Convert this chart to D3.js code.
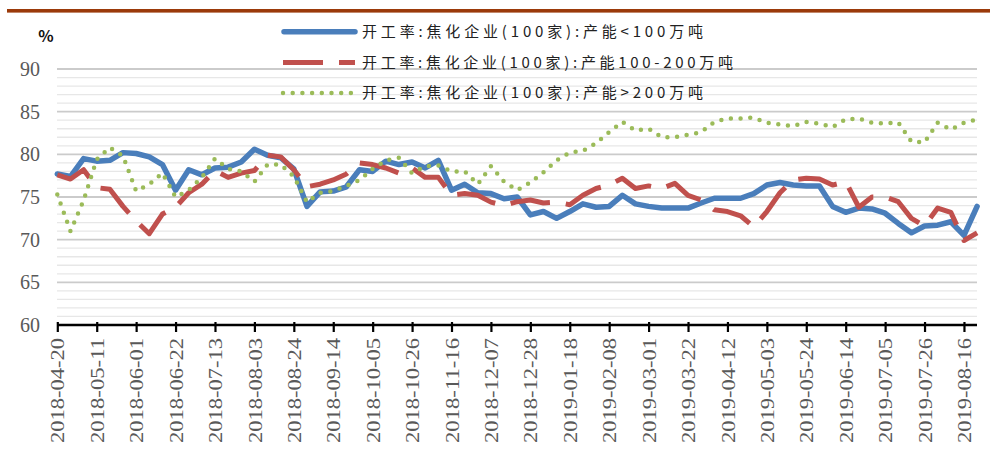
<!DOCTYPE html>
<html>
<head>
<meta charset="utf-8">
<script src="https://cdn.jsdelivr.net/npm/d3@7"></script>
<style>
  html, body { margin: 0; padding: 0; background: #fff; }
  svg { display: block; }
</style>
</head>
<body>
<svg id="chart" width="990" height="465"></svg>
<script>
// Weekly observation dates
const dates = [
  "2018-04-20","2018-04-27","2018-05-04","2018-05-11","2018-05-18","2018-05-25",
  "2018-06-01","2018-06-08","2018-06-15","2018-06-22","2018-06-29","2018-07-06",
  "2018-07-13","2018-07-20","2018-07-27","2018-08-03","2018-08-10","2018-08-17",
  "2018-08-24","2018-08-31","2018-09-07","2018-09-14","2018-09-21","2018-09-28",
  "2018-10-05","2018-10-12","2018-10-19","2018-10-26","2018-11-02","2018-11-09",
  "2018-11-16","2018-11-23","2018-11-30","2018-12-07","2018-12-14","2018-12-21",
  "2018-12-28","2019-01-04","2019-01-11","2019-01-18","2019-01-25","2019-02-01",
  "2019-02-08","2019-02-15","2019-02-22","2019-03-01","2019-03-08","2019-03-15",
  "2019-03-22","2019-03-29","2019-04-05","2019-04-12","2019-04-19","2019-04-26",
  "2019-05-03","2019-05-10","2019-05-17","2019-05-24","2019-05-31","2019-06-07",
  "2019-06-14","2019-06-21","2019-06-28","2019-07-05","2019-07-12","2019-07-19",
  "2019-07-26","2019-08-02","2019-08-09","2019-08-16","2019-08-23"
];

// Dates shown on the category axis
const tickDates = [
  "2018-04-20","2018-05-11","2018-06-01","2018-06-22","2018-07-13","2018-08-03",
  "2018-08-24","2018-09-14","2018-10-05","2018-10-26","2018-11-16","2018-12-07",
  "2018-12-28","2019-01-18","2019-02-08","2019-03-01","2019-03-22","2019-04-12",
  "2019-05-03","2019-05-24","2019-06-14","2019-07-05","2019-07-26","2019-08-16"
];

const yTicks = [60, 65, 70, 75, 80, 85, 90];

// Capacity < 1 Mt
const smallPlants = [
  77.7, 77.4, 79.5, 79.2, 79.3, 80.2, 80.1, 79.7, 78.8, 75.8,
  78.2, 77.6, 78.4, 78.5, 79.1, 80.6, 79.9, 79.6, 78.3, 73.9,
  75.6, 75.7, 76.2, 78.2, 78.0, 79.2, 78.8, 79.1, 78.4, 79.3,
  75.8, 76.5, 75.5, 75.4, 74.8, 75.0, 72.9, 73.3, 72.5, 73.3,
  74.2, 73.8, 73.9, 75.2, 74.2, 73.9, 73.7, 73.7, 73.7, 74.3,
  74.85, 74.85, 74.85, 75.4, 76.4, 76.7, 76.4, 76.3, 76.3, 73.9,
  73.2, 73.7, 73.6, 73.1, 71.9, 70.8, 71.6, 71.7, 72.1, 70.5,
  73.9
];

// Capacity 1-2 Mt
const midPlants = [
  77.6, 77.1, 78.2, 76.1, 75.9, 73.9, 72.2, 70.7, 73.0, 73.8,
  75.5, 76.5, 78.1, 77.3, 77.8, 78.1, 79.9, 79.7, 78.2, 76.2,
  76.5, 77.0, 77.7, 79.0, 78.8, 78.4, 77.8, 78.4, 77.3, 77.3,
  75.2, 75.4, 75.2, 74.4, 74.0, 74.45, 74.65, 74.3, 74.4, 74.1,
  75.2, 76.0, 76.4, 77.2, 76.0, 76.3, 76.0, 76.6, 75.2, 74.65,
  73.5, 73.3, 72.8, 71.5, 73.3, 75.5, 77.0, 77.2, 77.1, 76.4,
  76.8, 73.8, 75.0, 75.0, 74.45, 72.5, 71.6, 73.7, 73.2, 69.9,
  70.8
];

// Capacity > 2 Mt
const largePlants = [
  75.3, 71.0, 74.6, 79.4, 80.8, 79.8, 75.7, 76.5, 77.8, 75.0,
  75.8, 77.3, 79.5, 78.3, 78.0, 76.8, 78.8, 78.8, 77.4, 74.4,
  75.5, 75.7, 76.3, 77.0, 78.3, 79.3, 79.6, 77.8, 78.6, 78.7,
  78.0, 78.0, 76.5, 78.6, 76.8, 75.8, 76.7, 77.9, 79.3, 80.2,
  80.4, 81.3, 82.6, 83.8, 82.8, 83.0, 82.0, 82.0, 82.3, 82.6,
  83.8, 84.2, 84.2, 84.3, 83.7, 83.5, 83.3, 83.8, 83.6, 83.2,
  84.1, 84.2, 83.7, 83.6, 83.75, 81.5, 81.4, 83.7, 82.9, 83.7,
  84.1
];

const seriesNames = [
  "开工率:焦化企业(100家):产能<100万吨",
  "开工率:焦化企业(100家):产能100-200万吨",
  "开工率:焦化企业(100家):产能>200万吨"
];

const series = [
  { name: seriesNames[0], values: smallPlants, color: "#4A7EBB", width: 5.5, dash: null, cap: "round", legendW: 341 },
  { name: seriesNames[1], values: midPlants,   color: "#C0504D", width: 5,   dash: "40,16", cap: "butt", legendW: 371 },
  { name: seriesNames[2], values: largePlants, color: "#9BBB59", width: 4.5, dash: "0,9.7", cap: "round", legendW: 341 }
];

const svg = d3.select("#chart");

svg.append("rect").attr("width", 990).attr("height", 465).attr("fill", "#fff");

// Header rule
svg.append("rect")
  .attr("x", 7).attr("y", 9).attr("width", 983).attr("height", 3.6)
  .attr("fill", "#9B3A0A");

const x = d3.scalePoint().domain(dates).range([57.3, 977.1]);
const y = d3.scaleLinear().domain([60, 90]).range([325, 69]);

// Horizontal gridlines, one per unit, heavier every five
const gridVals = d3.range(61, 91);
svg.append("g").selectAll("line")
  .data(gridVals)
  .join("line")
  .attr("x1", 57).attr("x2", 977)
  .attr("y1", d => y(d)).attr("y2", d => y(d))
  .attr("stroke", d => d % 5 === 0 ? "#cbcbcb" : "#e7e7e7")
  .attr("stroke-width", d => d % 5 === 0 ? 1.8 : 1.3);

// Y axis labels
svg.append("g").selectAll("text")
  .data(yTicks)
  .join("text")
  .attr("x", 40).attr("y", d => y(d))
  .attr("dy", "0.35em")
  .attr("text-anchor", "end")
  .attr("font-family", "'Liberation Serif', 'Times New Roman', serif")
  .attr("font-size", 20)
  .attr("fill", "#595959")
  .text(d => d);

// Unit label
svg.append("text")
  .attr("x", 46).attr("y", 42)
  .attr("text-anchor", "middle")
  .attr("font-family", "'Noto Sans CJK SC', sans-serif")
  .attr("font-size", 16)
  .attr("font-weight", "bold")
  .attr("fill", "#111")
  .text("%");

// Series lines
const line = d3.line()
  .x((d, i) => x(dates[i]))
  .y(d => y(d));

series.forEach(s => {
  svg.append("path")
    .datum(s.values)
    .attr("fill", "none")
    .attr("stroke", s.color)
    .attr("stroke-width", s.width)
    .attr("stroke-linejoin", "round")
    .attr("stroke-linecap", s.cap)
    .attr("stroke-dasharray", s.dash)
    .attr("d", line);
});

// Category axis
const xAxis = d3.axisBottom(x)
  .tickValues(tickDates)
  .tickSize(0)
  .tickFormat(d => d);

const axisG = svg.append("g").attr("transform", "translate(0,325)").call(xAxis);
axisG.select(".domain").remove();
axisG.append("line")
  .attr("x1", 57).attr("x2", 977).attr("y1", 0).attr("y2", 0)
  .attr("stroke", "#000").attr("stroke-width", 2.4);
axisG.selectAll(".tick").append("line")
  .attr("y1", -3).attr("y2", 7)
  .attr("stroke", "#000").attr("stroke-width", 2.2);
axisG.selectAll(".tick text")
  .attr("transform", "rotate(-90)")
  .attr("x", -13).attr("y", 0)
  .attr("dy", "0.35em")
  .attr("text-anchor", "end")
  .attr("font-family", "'Liberation Serif', 'Times New Roman', serif")
  .attr("font-size", 19)
  .attr("fill", "#595959")
  .attr("textLength", 105)
  .attr("lengthAdjust", "spacingAndGlyphs");

// Legend
const legendRows = [31.7, 62.5, 93];
const legend = svg.append("g");
series.forEach((s, i) => {
  const ly = legendRows[i];
  legend.append("line")
    .attr("x1", s.dash ? 283 : 284).attr("x2", 355)
    .attr("y1", ly).attr("y2", ly)
    .attr("stroke", s.color)
    .attr("stroke-width", s.width)
    .attr("stroke-linecap", s.cap)
    .attr("stroke-dasharray", s.dash);
  legend.append("text")
    .attr("x", 362).attr("y", ly)
    .attr("dy", "0.36em")
    .attr("font-family", "'Noto Sans CJK SC', sans-serif")
    .attr("font-size", 15)
    .attr("fill", "#222")
    .attr("textLength", s.legendW)
    .attr("lengthAdjust", "spacing")
    .text(s.name);
});
</script>
</body>
</html>
